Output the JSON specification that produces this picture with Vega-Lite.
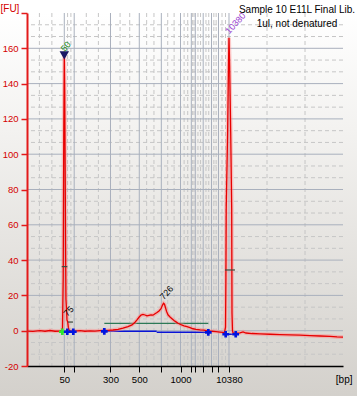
{
  "$schema": "https://vega.github.io/schema/vega-lite/v6.json",
  "width": 316,
  "height": 353,
  "autosize": "none",
  "padding": {"left": 27, "top": 13, "right": 14, "bottom": 30},
  "background": "#ffffff",
  "config": {"view": {"stroke": null}, "font": "Liberation Sans", "axis": {"labelOverlap": false, "labelFlush": false, "labelBound": false, "tickCount": 30}},
  "title": {
    "text": "Sample 10 E11L Final Lib.",
    "subtitle": "1ul, not denatured",
    "anchor": "end",
    "align": "center",
    "frame": "group",
    "dx": -46,
    "offset": -26,
    "fontSize": 10,
    "fontWeight": "normal",
    "subtitleFontSize": 10,
    "color": "#000000",
    "subtitleColor": "#000000",
    "subtitlePadding": 4,
    "font": "Liberation Sans",
    "subtitleFont": "Liberation Sans"
  },
  "datasets": {
    "trace": [
      {"t": 20.00, "fu": -0.2}, {"t": 22.00, "fu": -0.4}, {"t": 24.33, "fu": 0.0}, {"t": 26.00, "fu": -0.3},
      {"t": 27.67, "fu": 0.1}, {"t": 29.33, "fu": -0.3}, {"t": 31.00, "fu": -0.2}, {"t": 31.50, "fu": 0.0},
      {"t": 31.83, "fu": 1.5}, {"t": 32.07, "fu": 30}, {"t": 32.25, "fu": 110}, {"t": 32.43, "fu": 156},
      {"t": 32.58, "fu": 135}, {"t": 32.72, "fu": 94}, {"t": 32.85, "fu": 50}, {"t": 32.98, "fu": 18},
      {"t": 33.17, "fu": 12}, {"t": 33.33, "fu": 6}, {"t": 33.57, "fu": 5}, {"t": 33.77, "fu": 2},
      {"t": 34.00, "fu": 0.5}, {"t": 34.33, "fu": -0.2}, {"t": 36.00, "fu": -0.2}, {"t": 37.67, "fu": 0.0},
      {"t": 39.33, "fu": -0.3}, {"t": 41.00, "fu": -0.1}, {"t": 42.67, "fu": -0.2}, {"t": 44.33, "fu": 0.0},
      {"t": 45.67, "fu": 0.1}, {"t": 47.00, "fu": 0.2}, {"t": 48.67, "fu": 0.4}, {"t": 50.33, "fu": 0.8},
      {"t": 52.00, "fu": 1.4}, {"t": 53.67, "fu": 2.3}, {"t": 55.00, "fu": 3.3}, {"t": 56.00, "fu": 4.8},
      {"t": 56.67, "fu": 6.1}, {"t": 57.33, "fu": 7.6}, {"t": 58.00, "fu": 8.8}, {"t": 58.67, "fu": 9.2},
      {"t": 59.33, "fu": 8.9}, {"t": 60.00, "fu": 8.4}, {"t": 60.67, "fu": 8.7}, {"t": 61.33, "fu": 9.0},
      {"t": 62.00, "fu": 8.8}, {"t": 62.67, "fu": 9.6}, {"t": 63.33, "fu": 10.3}, {"t": 64.00, "fu": 11.2},
      {"t": 64.67, "fu": 12.5}, {"t": 65.17, "fu": 14.5}, {"t": 65.50, "fu": 15.5}, {"t": 65.83, "fu": 15.0},
      {"t": 66.17, "fu": 13.0}, {"t": 66.50, "fu": 11.0}, {"t": 67.00, "fu": 9.0}, {"t": 67.67, "fu": 7.8},
      {"t": 68.33, "fu": 6.8}, {"t": 69.00, "fu": 5.8}, {"t": 69.67, "fu": 5.0}, {"t": 70.33, "fu": 4.2},
      {"t": 71.33, "fu": 3.4}, {"t": 72.33, "fu": 2.8}, {"t": 73.33, "fu": 2.3}, {"t": 74.33, "fu": 1.7},
      {"t": 75.33, "fu": 1.1}, {"t": 76.33, "fu": 0.8}, {"t": 77.67, "fu": 0.5}, {"t": 79.00, "fu": 0.3},
      {"t": 80.33, "fu": -0.2}, {"t": 81.67, "fu": -0.3}, {"t": 83.00, "fu": -0.5}, {"t": 84.33, "fu": -0.8},
      {"t": 85.33, "fu": -1.0}, {"t": 85.83, "fu": -1.0}, {"t": 86.17, "fu": 2}, {"t": 86.30, "fu": 30},
      {"t": 86.40, "fu": 69}, {"t": 86.87, "fu": 112}, {"t": 87.15, "fu": 150}, {"t": 87.33, "fu": 166},
      {"t": 87.55, "fu": 150}, {"t": 87.90, "fu": 112}, {"t": 88.23, "fu": 69}, {"t": 88.33, "fu": 10},
      {"t": 88.50, "fu": 0}, {"t": 88.67, "fu": -1.2}, {"t": 89.33, "fu": -1.5}, {"t": 91.00, "fu": -1.2},
      {"t": 92.00, "fu": -0.7}, {"t": 93.00, "fu": -1.3}, {"t": 95.00, "fu": -1.6}, {"t": 97.67, "fu": -1.8},
      {"t": 101.00, "fu": -2.0}, {"t": 104.33, "fu": -2.2}, {"t": 107.67, "fu": -2.4}, {"t": 111.00, "fu": -2.5},
      {"t": 114.33, "fu": -2.8}, {"t": 117.67, "fu": -3.0}, {"t": 121.00, "fu": -3.2}, {"t": 123.33, "fu": -3.5},
      {"t": 125.33, "fu": -3.6}
    ],
    "ladder": [
      {"bp": 50, "t": 32.43}, {"bp": 100, "t": 35.73}, {"bp": 300, "t": 47.83}, {"bp": 500, "t": 57.43},
      {"bp": 700, "t": 64.77}, {"bp": 1000, "t": 71.17}, {"bp": 1500, "t": 74.77}, {"bp": 2000, "t": 76.10},
      {"bp": 3000, "t": 78.73}, {"bp": 5000, "t": 81.50}, {"bp": 7000, "t": 83.83}, {"bp": 10380, "t": 87.33}
    ],
    "minorX": [
      {"t": 24.14}, {"t": 28.29}, {"t": 33.53}, {"t": 34.63}, {"t": 39.76}, {"t": 43.80}, {"t": 51.03},
      {"t": 54.23}, {"t": 59.88}, {"t": 62.32}, {"t": 66.90}, {"t": 69.04}, {"t": 72.37}, {"t": 73.57},
      {"t": 75.21}, {"t": 75.66}, {"t": 76.98}, {"t": 77.85}, {"t": 79.65}, {"t": 80.58}, {"t": 82.28},
      {"t": 83.05}, {"t": 85.00}, {"t": 86.16}, {"t": 100.00}, {"t": 112.67}
    ],
    "minorY": [
      {"fu": -13.33}, {"fu": -6.67}, {"fu": 6.67}, {"fu": 13.33}, {"fu": 26.67}, {"fu": 33.33},
      {"fu": 46.67}, {"fu": 53.33}, {"fu": 66.67}, {"fu": 73.33}, {"fu": 86.67}, {"fu": 93.33},
      {"fu": 106.67}, {"fu": 113.33}, {"fu": 126.67}, {"fu": 133.33}, {"fu": 146.67}, {"fu": 153.33},
      {"fu": 166.67}, {"fu": 173.33}
    ],
    "majorY": [
      {"fu": 0}, {"fu": 20}, {"fu": 40}, {"fu": 60}, {"fu": 80}, {"fu": 100}, {"fu": 120}, {"fu": 140}, {"fu": 160}
    ],
    "points": [
      {"t": 31.77, "fu": -0.6, "kind": "start"}, {"t": 33.43, "fu": -0.6, "kind": "edge"},
      {"t": 35.43, "fu": -0.6, "kind": "edge"}, {"t": 45.77, "fu": -0.4, "kind": "edge"},
      {"t": 80.43, "fu": -0.9, "kind": "edge"}, {"t": 86.23, "fu": -2.0, "kind": "edge"},
      {"t": 89.57, "fu": -2.0, "kind": "edge"}
    ],
    "baselines": [
      {"t": 33.43, "t2": 35.43, "fu": -0.6}, {"t": 45.77, "t2": 63.23, "fu": -0.3},
      {"t": 63.23, "t2": 80.43, "fu": -0.9}, {"t": 86.23, "t2": 89.57, "fu": -2.0}
    ],
    "region": [{"t": 45.77, "t2": 80.43, "fu": 4.2}],
    "widths": [
      {"t": 31.57, "t2": 33.43, "fu": 36.3}, {"t": 33.67, "t2": 35.33, "fu": 4.9}, {"t": 86.0, "t2": 89.33, "fu": 34.4}
    ],
    "peaks": [
      {"label": "50", "kind": "lower marker", "t": 32.43, "fu": 156},
      {"label": "75", "kind": "peak", "t": 33.4, "fu": 6},
      {"label": "726", "kind": "peak", "t": 65.5, "fu": 15.5},
      {"label": "10380", "kind": "upper marker", "t": 87.33, "fu": 166}
    ]
  },
  "layer": [
    {
      "data": {"values": [{}]},
      "mark": {
        "type": "rect",
        "clip": false,
        "fill": {"x1": 0, "y1": 0, "x2": 0, "y2": 1, "gradient": "linear",
          "stops": [{"offset": 0, "color": "#ffffff"}, {"offset": 0.3, "color": "#f3f2f0"}, {"offset": 1, "color": "#d3d0cb"}]}
      },
      "encoding": {
        "x": {"datum": 10, "type": "quantitative"},
        "x2": {"datum": 135},
        "y": {"datum": -40, "type": "quantitative"},
        "y2": {"datum": 180}
      }
    },
    {
      "data": {"name": "minorX"},
      "mark": {"type": "rule", "color": "#c6c6c6", "strokeDash": [4, 3], "strokeWidth": 1},
      "encoding": {"x": {"field": "t", "type": "quantitative"}}
    },
    {
      "data": {"name": "minorY"},
      "mark": {"type": "rule", "color": "#c6c6c6", "strokeDash": [4, 3], "strokeWidth": 1},
      "encoding": {"y": {"field": "fu", "type": "quantitative"}}
    },
    {
      "data": {"name": "ladder"},
      "mark": {"type": "rule", "color": "#a9b0bd", "strokeWidth": 1},
      "encoding": {"x": {"field": "t", "type": "quantitative"}}
    },
    {
      "data": {"name": "majorY"},
      "mark": {"type": "rule", "color": "#a9b0bd", "strokeWidth": 1},
      "encoding": {"y": {"field": "fu", "type": "quantitative"}}
    },
    {
      "data": {"name": "region"},
      "mark": {"type": "rule", "color": "#2d7a57", "strokeWidth": 1.2},
      "encoding": {
        "x": {"field": "t", "type": "quantitative"},
        "x2": {"field": "t2"},
        "y": {"field": "fu", "type": "quantitative"}
      }
    },
    {
      "data": {"name": "baselines"},
      "mark": {"type": "rule", "color": "#0a14d6", "strokeWidth": 1.5},
      "encoding": {
        "x": {"field": "t", "type": "quantitative"},
        "x2": {"field": "t2"},
        "y": {"field": "fu", "type": "quantitative"}
      }
    },
    {
      "data": {"name": "trace"},
      "mark": {"type": "line", "color": "#ff8a8a", "strokeWidth": 4, "opacity": 0.45},
      "encoding": {
        "x": {"field": "t", "type": "quantitative"},
        "y": {"field": "fu", "type": "quantitative"}
      }
    },
    {
      "data": {"name": "trace"},
      "mark": {"type": "line", "color": "#e80000", "strokeWidth": 1.3},
      "encoding": {
        "x": {
          "field": "t", "type": "quantitative",
          "scale": {"domain": [20, 125.33], "nice": false, "zero": false},
          "axis": {
            "values": [32.43, 35.73, 47.83, 57.43, 64.77, 71.17, 74.77, 76.10, 78.73, 81.50, 83.83, 87.33],
            "tickCount": 30,
            "labelExpr": "datum.value==32.43?'50':datum.value==47.83?'300':datum.value==57.43?'500':datum.value==71.17?'1000':datum.value==87.33?'10380':''",
            "title": "[bp]", "titleX": 325, "titleY": 13, "titleAlign": "right", "titleBaseline": "middle",
            "titleFontSize": 10, "titleFontWeight": "normal", "titleColor": "#000000", "titleFont": "Liberation Sans",
            "grid": false, "domainColor": "#000000", "domainWidth": 1.5, "tickColor": "#000000",
            "tickSize": 6, "tickWidth": 1, "labelColor": "#000000", "labelFontSize": 9.5, "labelPadding": 2,
            "labelFont": "Liberation Sans", "labelOverlap": false, "labelFlush": false, "zindex": 1
          }
        },
        "y": {
          "field": "fu", "type": "quantitative",
          "scale": {"domain": [-20, 180], "nice": false, "zero": false},
          "axis": {
            "values": [-20, 0, 20, 40, 60, 80, 100, 120, 140, 160, 180],
            "tickCount": 30,
            "labelExpr": "datum.value==180?'':''+datum.value",
            "title": "[FU]", "titleAngle": 0, "titleX": -27, "titleY": 0, "titleAlign": "left", "titleBaseline": "bottom",
            "titleColor": "#d40000", "titleFontSize": 10, "titleFontWeight": "normal", "titleFont": "Liberation Sans",
            "grid": false, "domainColor": "#e31a1a", "domainWidth": 2, "tickColor": "#e31a1a", "tickSize": 6,
            "tickWidth": 1.5, "labelColor": "#d40000", "labelFontSize": 9.5, "labelPadding": 3,
            "labelFont": "Liberation Sans", "labelOverlap": false, "zindex": 1
          }
        }
      }
    },
    {
      "data": {"name": "widths"},
      "mark": {"type": "rule", "color": "#3d4b3d", "strokeWidth": 1.2},
      "encoding": {
        "x": {"field": "t", "type": "quantitative"},
        "x2": {"field": "t2"},
        "y": {"field": "fu", "type": "quantitative"}
      }
    },
    {
      "data": {"name": "points"},
      "mark": {"type": "point", "shape": "cross", "filled": true, "size": 45, "opacity": 1},
      "encoding": {
        "x": {"field": "t", "type": "quantitative"},
        "y": {"field": "fu", "type": "quantitative"},
        "color": {"field": "kind", "type": "nominal", "scale": {"domain": ["start", "edge"], "range": ["#2ee82e", "#0014e0"]}, "legend": null}
      }
    },
    {
      "data": {"name": "peaks"},
      "transform": [{"filter": "datum.kind == 'lower marker'"}],
      "mark": {"type": "point", "shape": "triangle-down", "filled": true, "size": 90, "color": "#191966", "opacity": 1},
      "encoding": {
        "x": {"field": "t", "type": "quantitative"},
        "y": {"field": "fu", "type": "quantitative"}
      }
    },
    {
      "data": {"name": "peaks"},
      "mark": {"type": "text", "angle": 312, "align": "left", "baseline": "middle", "fontSize": 9, "radius": 5.5, "theta": -0.35, "font": "Liberation Sans"},
      "encoding": {
        "x": {"field": "t", "type": "quantitative"},
        "y": {"field": "fu", "type": "quantitative"},
        "text": {"field": "label"},
        "color": {"field": "kind", "type": "nominal", "scale": {"domain": ["lower marker", "peak", "upper marker"], "range": ["#168a16", "#000000", "#9a3fd0"]}, "legend": null}
      }
    }
  ],
  "resolve": {"scale": {"color": "independent"}}
}
